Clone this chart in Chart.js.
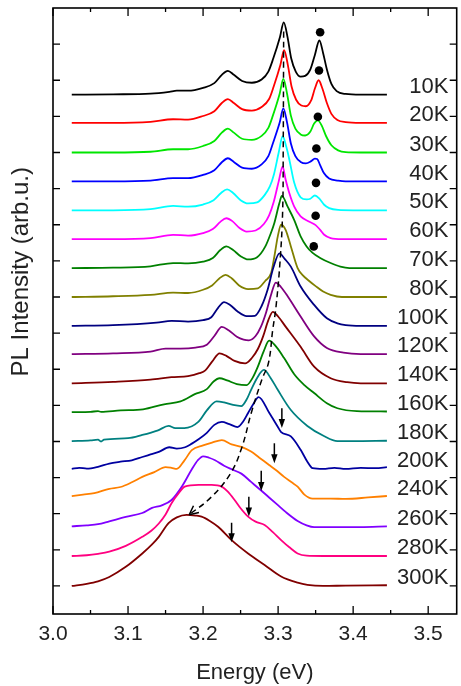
<!DOCTYPE html>
<html>
<head>
<meta charset="utf-8">
<script src="https://cdn.jsdelivr.net/npm/chart.js@4.4.0/dist/chart.umd.min.js"></script>
<style>
  html, body { margin: 0; padding: 0; background: #fff; }
  #wrap { width: 461px; height: 686px; }
</style>
</head>
<body>
<div id="wrap"><canvas id="pl"></canvas></div>
<script>
// temperatures, vertical offsets of each spectrum and line colours
const temps = ['10K','20K','30K','40K','50K','60K','70K','80K','100K','120K','140K','160K','180K','200K','240K','260K','280K','300K'];
const offsets = [13.6, 12.82, 12.0, 11.2, 10.4, 9.6, 8.8, 8.0, 7.2, 6.42, 5.61, 4.81, 4.01, 3.24, 2.47, 1.63, 0.83, 0.0];
const colors = ['#000000','#ff0000','#00e600','#0000ff','#00ffff','#ff00ff','#008000','#808000','#000080','#800080','#800000','#008000','#008080','#0000a0','#ff8000','#8000ff','#ff0080','#800000'];

// spectra: [energy (eV), PL intensity (arb.u.)]
const s10 = [[3.025,0],[3.08,0.01],[3.13,0.03],[3.155,0.08],[3.165,0.11],[3.18,0.11],[3.2,0.19],[3.215,0.32],[3.225,0.55],[3.233,0.66],[3.241,0.55],[3.252,0.38],[3.265,0.33],[3.278,0.42],[3.287,0.64],[3.2935,1.0],[3.3025,1.6],[3.3075,2.0],[3.3125,1.6],[3.3175,1.0],[3.3235,0.64],[3.33,0.5],[3.336,0.52],[3.343,0.7],[3.349,1.1],[3.355,1.5],[3.36,1.15],[3.365,0.7],[3.371,0.3],[3.378,0.1],[3.39,0.02],[3.41,0],[3.445,0]];
const s20 = [[3.025,0],[3.08,0],[3.13,0.03],[3.16,0.1],[3.18,0.09],[3.2,0.19],[3.215,0.32],[3.225,0.55],[3.233,0.66],[3.241,0.55],[3.252,0.38],[3.265,0.34],[3.278,0.44],[3.288,0.66],[3.294,1.0],[3.303,1.6],[3.308,2.01],[3.313,1.6],[3.318,1.0],[3.324,0.64],[3.331,0.48],[3.337,0.46],[3.344,0.62],[3.349,0.95],[3.354,1.18],[3.359,0.95],[3.365,0.55],[3.371,0.25],[3.379,0.08],[3.39,0.02],[3.41,0],[3.445,0]];
const s30 = [[3.025,0],[3.08,0],[3.13,0.02],[3.16,0.09],[3.18,0.09],[3.2,0.18],[3.215,0.32],[3.225,0.55],[3.233,0.66],[3.241,0.55],[3.252,0.38],[3.265,0.35],[3.278,0.46],[3.287,0.68],[3.293,1.02],[3.302,1.62],[3.307,2.04],[3.312,1.62],[3.317,1.02],[3.323,0.66],[3.33,0.5],[3.336,0.47],[3.343,0.58],[3.348,0.8],[3.353,0.89],[3.358,0.75],[3.364,0.45],[3.371,0.2],[3.38,0.06],[3.39,0.01],[3.41,0],[3.445,0]];
const s40 = [[3.025,0],[3.08,0],[3.13,0.02],[3.16,0.09],[3.18,0.09],[3.2,0.18],[3.215,0.31],[3.225,0.53],[3.233,0.64],[3.241,0.54],[3.252,0.38],[3.265,0.35],[3.278,0.47],[3.287,0.7],[3.293,1.05],[3.302,1.62],[3.307,2.02],[3.312,1.62],[3.317,1.05],[3.323,0.7],[3.33,0.54],[3.337,0.5],[3.344,0.56],[3.349,0.63],[3.352,0.62],[3.356,0.45],[3.361,0.23],[3.368,0.08],[3.38,0.02],[3.39,0],[3.445,0]];
const s50 = [[3.025,0],[3.08,0],[3.13,0.03],[3.16,0.12],[3.18,0.1],[3.2,0.16],[3.214,0.28],[3.224,0.48],[3.232,0.58],[3.24,0.48],[3.25,0.28],[3.26,0.19],[3.272,0.22],[3.282,0.42],[3.289,0.66],[3.2945,1.0],[3.301,1.62],[3.306,2.05],[3.311,1.75],[3.315,1.4],[3.3215,0.76],[3.33,0.36],[3.338,0.3],[3.343,0.32],[3.349,0.41],[3.355,0.32],[3.361,0.16],[3.368,0.06],[3.38,0.01],[3.4,0],[3.445,0]];
const s60 = [[3.025,0],[3.08,0],[3.13,0.03],[3.16,0.12],[3.18,0.1],[3.2,0.17],[3.213,0.28],[3.223,0.48],[3.231,0.58],[3.239,0.5],[3.249,0.3],[3.258,0.21],[3.27,0.24],[3.281,0.42],[3.288,0.66],[3.294,1.02],[3.301,1.62],[3.306,2.01],[3.31,1.65],[3.315,1.27],[3.3215,0.9],[3.33,0.63],[3.341,0.49],[3.35,0.39],[3.356,0.26],[3.361,0.13],[3.37,0.03],[3.385,0],[3.445,0]];
const s70 = [[3.025,0],[3.08,0.01],[3.13,0.05],[3.16,0.14],[3.18,0.13],[3.2,0.18],[3.213,0.28],[3.223,0.5],[3.231,0.6],[3.24,0.5],[3.25,0.33],[3.26,0.24],[3.272,0.3],[3.283,0.6],[3.29,0.95],[3.295,1.25],[3.3017,1.8],[3.305,2.0],[3.3127,1.7],[3.3215,1.33],[3.33,0.88],[3.338,0.6],[3.346,0.42],[3.356,0.28],[3.37,0.14],[3.383,0.04],[3.395,0],[3.445,0]];
const s80 = [[3.025,0],[3.08,0.02],[3.13,0.06],[3.16,0.12],[3.18,0.11],[3.2,0.2],[3.212,0.32],[3.222,0.52],[3.23,0.61],[3.238,0.52],[3.248,0.32],[3.26,0.22],[3.273,0.24],[3.283,0.45],[3.2906,0.66],[3.295,1.12],[3.2995,1.67],[3.304,2.0],[3.31,1.86],[3.317,1.4],[3.326,0.8],[3.333,0.6],[3.341,0.45],[3.35,0.3],[3.36,0.15],[3.37,0.06],[3.385,0],[3.445,0]];
const s100 = [[3.025,0],[3.08,0.02],[3.138,0.09],[3.158,0.14],[3.18,0.12],[3.2,0.16],[3.211,0.24],[3.22,0.5],[3.228,0.66],[3.236,0.58],[3.246,0.4],[3.258,0.27],[3.269,0.28],[3.278,0.55],[3.286,1.0],[3.2935,1.6],[3.3017,2.01],[3.309,1.85],[3.317,1.64],[3.33,1.09],[3.348,0.58],[3.365,0.21],[3.379,0.07],[3.39,0.02],[3.41,0],[3.445,0]];
const s120 = [[3.025,0],[3.08,0.02],[3.13,0.07],[3.15,0.15],[3.17,0.15],[3.19,0.18],[3.205,0.26],[3.215,0.5],[3.225,0.75],[3.234,0.66],[3.245,0.48],[3.254,0.4],[3.261,0.38],[3.27,0.5],[3.277,0.75],[3.284,1.15],[3.29,1.6],[3.297,1.98],[3.304,1.85],[3.3127,1.6],[3.33,1.04],[3.348,0.49],[3.365,0.17],[3.387,0.04],[3.41,0],[3.445,0]];
const s140 = [[3.025,0],[3.08,0.04],[3.13,0.1],[3.158,0.17],[3.18,0.2],[3.195,0.28],[3.203,0.36],[3.212,0.6],[3.222,0.83],[3.231,0.76],[3.242,0.62],[3.256,0.55],[3.265,0.7],[3.273,0.95],[3.28,1.3],[3.287,1.75],[3.293,1.98],[3.3,1.85],[3.31,1.57],[3.33,1.01],[3.348,0.46],[3.37,0.14],[3.392,0.03],[3.41,0],[3.445,0]];
const s160 = [[3.025,0],[3.05,0.01],[3.06,0.03],[3.064,0.01],[3.09,0.05],[3.12,0.08],[3.148,0.22],[3.17,0.3],[3.189,0.5],[3.205,0.64],[3.214,0.85],[3.222,0.94],[3.232,0.88],[3.245,0.78],[3.258,0.75],[3.266,0.95],[3.273,1.26],[3.281,1.7],[3.288,1.98],[3.296,1.85],[3.308,1.5],[3.3215,1.05],[3.335,0.75],[3.348,0.53],[3.365,0.25],[3.379,0.11],[3.405,0.03],[3.445,0.02]];
const s180 = [[3.025,0],[3.05,0.02],[3.06,0.04],[3.064,-0.01],[3.068,0.04],[3.1,0.08],[3.119,0.17],[3.14,0.3],[3.154,0.42],[3.163,0.36],[3.175,0.36],[3.194,0.54],[3.205,0.85],[3.218,1.1],[3.228,1.07],[3.24,1.0],[3.251,0.97],[3.258,1.15],[3.264,1.42],[3.272,1.75],[3.281,1.97],[3.29,1.75],[3.2995,1.42],[3.317,0.86],[3.339,0.42],[3.361,0.14],[3.379,0],[3.4,0],[3.445,0.01]];
const s200 = [[3.025,0],[3.035,0.03],[3.045,0.01],[3.06,0.06],[3.075,0.15],[3.09,0.2],[3.105,0.24],[3.119,0.33],[3.13,0.4],[3.141,0.47],[3.155,0.6],[3.165,0.56],[3.176,0.6],[3.185,0.7],[3.194,0.82],[3.205,1.0],[3.215,1.22],[3.225,1.3],[3.235,1.24],[3.246,1.16],[3.253,1.3],[3.26,1.55],[3.267,1.8],[3.274,1.99],[3.2885,1.54],[3.2995,1.17],[3.304,1.02],[3.317,0.9],[3.33,0.53],[3.339,0.2],[3.346,0.02],[3.36,0],[3.375,0.03],[3.39,0],[3.41,0.03],[3.43,0.02],[3.445,0.05]];
const s240 = [[3.025,0.02],[3.04,0.06],[3.055,0.1],[3.075,0.22],[3.09,0.27],[3.105,0.4],[3.119,0.55],[3.135,0.68],[3.15,0.82],[3.158,0.8],[3.165,0.77],[3.175,1.0],[3.185,1.29],[3.2,1.42],[3.212,1.5],[3.225,1.57],[3.238,1.45],[3.251,1.38],[3.264,1.25],[3.275,1.08],[3.288,0.88],[3.297,0.74],[3.308,0.55],[3.318,0.4],[3.326,0.28],[3.335,0.06],[3.346,-0.05],[3.37,-0.05],[3.39,-0.06],[3.42,-0.02],[3.445,0.02]];
const s260 = [[3.025,0.02],[3.045,0.05],[3.06,0.08],[3.075,0.16],[3.097,0.28],[3.119,0.39],[3.132,0.53],[3.145,0.6],[3.158,0.75],[3.172,1.13],[3.185,1.6],[3.193,1.85],[3.2,1.96],[3.208,1.92],[3.216,1.85],[3.228,1.7],[3.238,1.6],[3.251,1.48],[3.264,1.25],[3.277,1.02],[3.288,0.82],[3.299,0.62],[3.31,0.42],[3.326,0.17],[3.338,0.05],[3.348,0],[3.38,0],[3.41,0],[3.445,0.02]];
const s280 = [[3.025,0],[3.045,0.02],[3.06,0.06],[3.075,0.12],[3.097,0.28],[3.119,0.53],[3.131,0.7],[3.141,0.9],[3.15,1.15],[3.158,1.46],[3.168,1.75],[3.1755,1.92],[3.194,1.97],[3.2114,1.97],[3.225,1.92],[3.233,1.78],[3.242,1.55],[3.25,1.32],[3.26,1.09],[3.27,0.95],[3.282,0.86],[3.293,0.66],[3.304,0.44],[3.315,0.24],[3.326,0.07],[3.338,0.01],[3.36,0],[3.4,0],[3.445,0]];
const s300 = [[3.025,0],[3.045,0.06],[3.06,0.13],[3.075,0.25],[3.097,0.53],[3.119,0.9],[3.132,1.15],[3.141,1.36],[3.154,1.74],[3.165,1.9],[3.178,1.97],[3.19,1.95],[3.198,1.92],[3.209,1.8],[3.22,1.64],[3.238,1.27],[3.26,0.9],[3.282,0.58],[3.304,0.26],[3.326,0.09],[3.339,0.03],[3.36,0],[3.39,0.01],[3.445,0.02]];
const spectra = [s10, s20, s30, s40, s50, s60, s70, s80, s100, s120, s140, s160, s180, s200, s240, s260, s280, s300];

// markers: satellite peaks (dots), shoulders (arrows), peak shift (dashed)
const dotE = [3.356, 3.3545, 3.353, 3.351, 3.3505, 3.35, 3.3475];
const dotY = [15.33, 14.27, 12.99, 12.11, 11.16, 10.25, 9.4];
const arrowE = [3.305, 3.295, 3.2775, 3.261, 3.238];
const arrowFrom = [4.92, 3.95, 3.19, 2.47, 1.75];
const arrowTo = [4.37, 3.40, 2.63, 1.92, 1.21];
const dashE = [3.3074, 3.3068, 3.3061, 3.303, 3.2972, 3.2928, 3.2872, 3.2783, 3.2642, 3.2519, 3.237, 3.2114, 3.1815];
const dashY = [15.35, 12.08, 10.42, 9.11, 7.73, 7.09, 6.18, 5.71, 4.79, 3.85, 3.13, 2.47, 1.97];

// axes
const xMajor = [3.0, 3.1, 3.2, 3.3, 3.4, 3.5];
const xMinor = [3.05, 3.15, 3.25, 3.35, 3.45];
const yTicks = [0,1,2,3,4,5,6,7,8,9,10,11,12,13,14,15];
const labelE = 3.527;

const FONT = "'Liberation Sans', Arial, sans-serif";
const INK = '#222';

const datasets = spectra.map((s, i) => ({
    label: temps[i],
    data: s.map(p => ({x: p[0], y: p[1] + offsets[i]})),
    borderColor: colors[i],
    borderWidth: 1.8,
    pointRadius: 0,
    cubicInterpolationMode: 'monotone',
    order: spectra.length - i
}));
datasets.push({
    label: 'shift',
    data: dashE.map((e, i) => ({x: e, y: dashY[i]})),
    borderColor: '#000',
    borderWidth: 1.5,
    borderDash: [6, 4],
    pointRadius: 0,
    tension: 0.4,
    order: -1
});
datasets.push({
    label: 'dots',
    data: dotE.map((e, i) => ({x: e, y: dotY[i]})),
    showLine: false,
    pointRadius: 4.3,
    pointBackgroundColor: '#000',
    pointBorderWidth: 0,
    order: -2
});

const decor = {
    id: 'decor',
    afterDatasetsDraw(chart) {
        const {ctx, chartArea: a, scales: {x, y}} = chart;
        ctx.save();
        ctx.strokeStyle = '#000';
        ctx.fillStyle = '#000';

        // frame and inward ticks
        ctx.lineWidth = 1.6;
        ctx.strokeRect(a.left, a.top, a.right - a.left, a.bottom - a.top);
        ctx.lineWidth = 1.3;
        ctx.beginPath();
        xMajor.forEach(v => {
            const px = x.getPixelForValue(v);
            ctx.moveTo(px, a.bottom); ctx.lineTo(px, a.bottom - 8);
            ctx.moveTo(px, a.top); ctx.lineTo(px, a.top + 8);
        });
        xMinor.forEach(v => {
            const px = x.getPixelForValue(v);
            ctx.moveTo(px, a.bottom); ctx.lineTo(px, a.bottom - 4);
            ctx.moveTo(px, a.top); ctx.lineTo(px, a.top + 4);
        });
        yTicks.forEach(v => {
            const py = y.getPixelForValue(v);
            ctx.moveTo(a.left, py); ctx.lineTo(a.left + 7, py);
            ctx.moveTo(a.right, py); ctx.lineTo(a.right - 7, py);
        });
        ctx.stroke();

        // shoulder arrows
        ctx.lineWidth = 1.5;
        arrowE.forEach((e, i) => {
            const px = x.getPixelForValue(e);
            const p0 = y.getPixelForValue(arrowFrom[i]);
            const p1 = y.getPixelForValue(arrowTo[i]);
            ctx.beginPath();
            ctx.moveTo(px, p0); ctx.lineTo(px, p1 - 6);
            ctx.stroke();
            ctx.beginPath();
            ctx.moveTo(px, p1); ctx.lineTo(px - 3.2, p1 - 9); ctx.lineTo(px + 3.2, p1 - 9);
            ctx.closePath();
            ctx.fill();
        });

        // open head at the end of the dashed curve
        const n = dashE.length;
        const hx = x.getPixelForValue(dashE[n - 1]), hy = y.getPixelForValue(dashY[n - 1]);
        const bx = x.getPixelForValue(dashE[n - 2]), by = y.getPixelForValue(dashY[n - 2]);
        const ang = Math.atan2(hy - by, hx - bx);
        ctx.lineWidth = 1.5;
        ctx.beginPath();
        [0.45, -0.45].forEach(d => {
            ctx.moveTo(hx, hy);
            ctx.lineTo(hx - 10 * Math.cos(ang + d), hy - 10 * Math.sin(ang + d));
        });
        ctx.stroke();

        // temperature labels
        ctx.fillStyle = INK;
        ctx.font = '22px ' + FONT;
        ctx.textAlign = 'right';
        ctx.textBaseline = 'middle';
        temps.forEach((t, i) => {
            ctx.fillText(t, x.getPixelForValue(labelE), y.getPixelForValue(offsets[i] + 0.22));
        });

        // y title
        ctx.font = '24px ' + FONT;
        ctx.translate(21, y.getPixelForValue(8.7));
        ctx.rotate(-Math.PI / 2);
        ctx.textAlign = 'center';
        ctx.fillText('PL Intensity (arb.u.)', 0, 0);
        ctx.restore();
    }
};

new Chart(document.getElementById('pl'), {
    type: 'line',
    data: {datasets},
    options: {
        responsive: true,
        maintainAspectRatio: false,
        animation: false,
        layout: {padding: {left: 53, right: 0, top: 8, bottom: 0}},
        plugins: {legend: {display: false}, tooltip: {enabled: false}},
        scales: {
            x: {
                type: 'linear',
                min: 3.0,
                max: 3.538,
                grid: {display: false, drawTicks: false},
                border: {display: false},
                afterBuildTicks: s => { s.ticks = xMajor.map(v => ({value: v})); },
                ticks: {
                    padding: 7.4,
                    color: INK,
                    autoSkip: false,
                    maxRotation: 0,
                    font: {family: FONT, size: 21},
                    callback: v => v.toFixed(1)
                },
                title: {
                    display: true,
                    text: 'Energy (eV)',
                    color: INK,
                    font: {family: FONT, size: 22},
                    padding: {top: 5.6, bottom: 0}
                }
            },
            y: {type: 'linear', min: -0.776, max: 16.0, display: false}
        }
    },
    plugins: [decor]
});
</script>
</body>
</html>
